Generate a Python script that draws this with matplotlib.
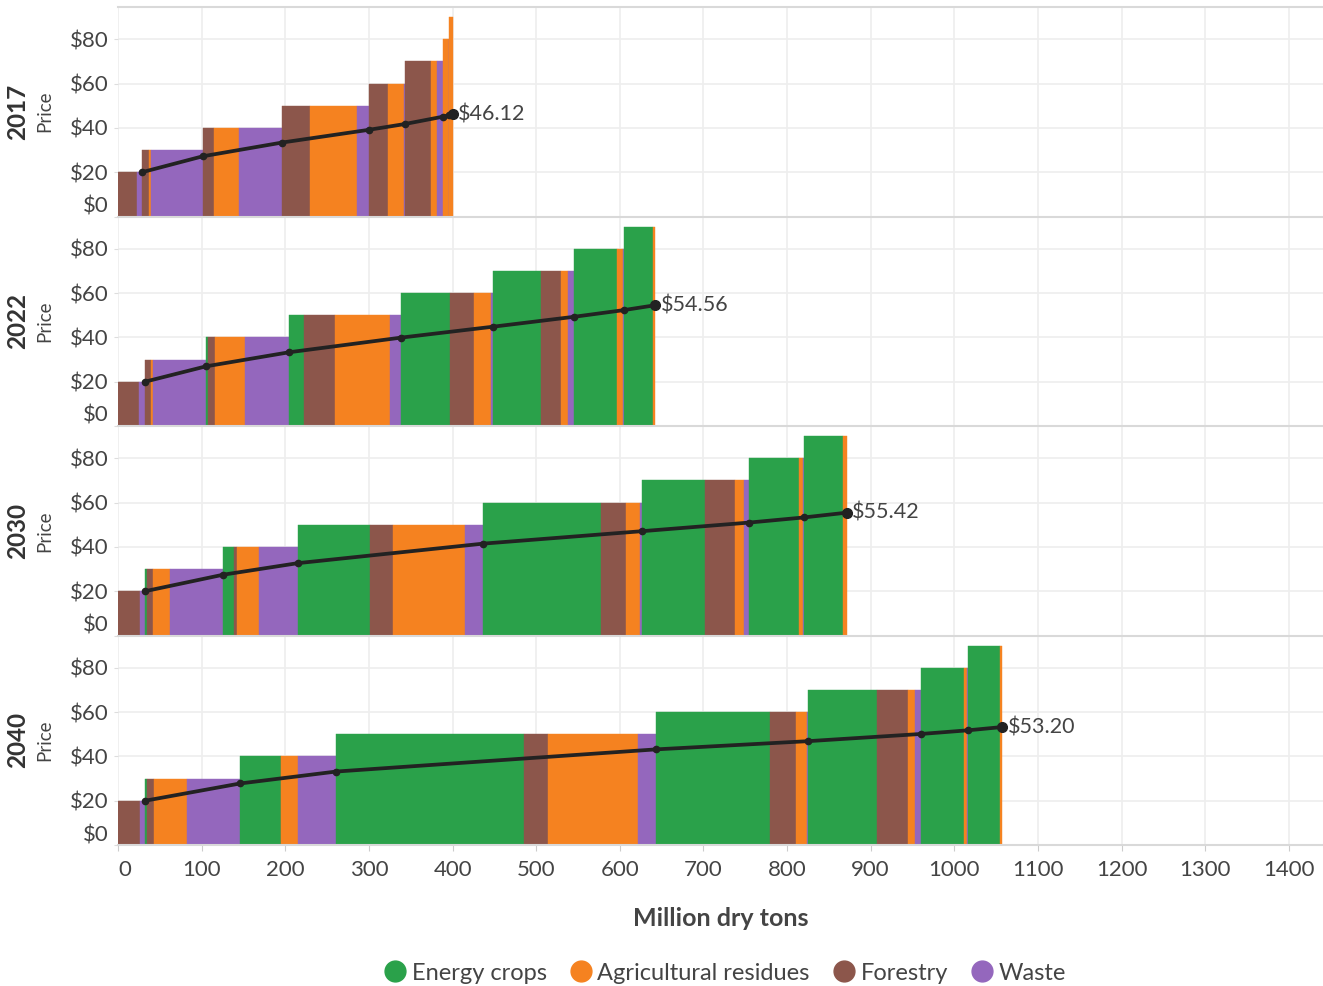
import matplotlib
matplotlib.use('Agg')
import matplotlib.pyplot as plt
from matplotlib.lines import Line2D

plt.rcParams['font.family'] = ['Lato', 'DejaVu Sans']

years = ['2017', '2022', '2030', '2040']
prices = [20, 30, 40, 50, 60, 70, 80, 90]
# order in which the categories are stacked inside each price step
categories = ['Energy crops', 'Forestry', 'Agricultural residues', 'Waste']
legend_order = ['Energy crops', 'Agricultural residues', 'Forestry', 'Waste']
colors = {
    'Energy crops': '#2aa14a',
    'Agricultural residues': '#f58220',
    'Forestry': '#8c564b',
    'Waste': '#9467bd',
}

# million dry tons added at each price step
energy_2017 = [0, 0, 0, 0, 0, 0, 0, 0]
forestry_2017 = [22.5, 8.3, 13.6, 33.5, 22.7, 31.5, 0, 0]
agres_2017 = [0, 2.1, 29.9, 56.2, 19.2, 7.1, 7.0, 4.0]
waste_2017 = [6.0, 62.1, 51.4, 14.4, 0.8, 6.9, 0.8, 0]

energy_2022 = [0, 0, 2.4, 17.9, 58.6, 57.4, 51.5, 35.5]
forestry_2022 = [24.9, 6.8, 8.4, 37.1, 28.7, 24.0, 0, 0]
agres_2022 = [0, 2.4, 35.9, 65.8, 20.4, 8.3, 7.5, 2.4]
waste_2022 = [7.2, 63.7, 52.6, 13.2, 2.3, 7.2, 0.5, 0]

energy_2030 = [0, 2.0, 13.1, 86.5, 141.3, 75.4, 59.8, 46.6]
forestry_2030 = [26.1, 7.2, 3.6, 27.5, 29.9, 35.9, 0, 0]
agres_2030 = [0, 20.7, 26.3, 86.1, 16.7, 10.7, 4.8, 4.8]
waste_2030 = [6.0, 63.4, 46.3, 21.2, 2.4, 6.0, 1.2, 0]

energy_2040 = [0, 1.7, 48.7, 224.9, 136.4, 82.6, 51.4, 38.3]
forestry_2040 = [26.1, 8.7, 0.5, 28.7, 31.1, 37.0, 0, 0]
agres_2040 = [0, 39.5, 20.2, 107.7, 13.5, 8.4, 3.6, 2.4]
waste_2040 = [6.3, 63.4, 45.4, 21.5, 0.8, 7.2, 1.2, 0]

end_labels = ['$46.12', '$54.56', '$55.42', '$53.20']

supply = {
    '2017': [energy_2017, forestry_2017, agres_2017, waste_2017],
    '2022': [energy_2022, forestry_2022, agres_2022, waste_2022],
    '2030': [energy_2030, forestry_2030, agres_2030, waste_2030],
    '2040': [energy_2040, forestry_2040, agres_2040, waste_2040],
}

W, H = 1323, 986
fig = plt.figure(figsize=(W / 100, H / 100), dpi=100)

left_px = 118.2
panel_h = 209.5
text_col = '#444444'

for i, year in enumerate(years):
    top = 7 + i * panel_h
    ax = fig.add_axes([left_px / W, 1 - (top + panel_h) / H, 1 - left_px / W, panel_h / H])

    x = 0.0
    cost = 0.0
    px, py = [], []
    for t, p in enumerate(prices):
        for c, cat in enumerate(categories):
            w = supply[year][c][t]
            if w > 0:
                ax.bar(x, p, width=w, align='edge', color=colors[cat],
                       edgecolor=colors[cat], linewidth=0.3, zorder=2)
            x += w
            cost += w * p
        px.append(x)
        py.append(cost / x)

    ax.plot(px, py, color='#222222', lw=2.7, marker='o', ms=4.5, zorder=5)
    ax.plot(px[-1], py[-1], 'o', color='#222222', ms=7, zorder=6)
    ax.annotate(end_labels[i], (px[-1], py[-1]), xytext=(4, 0), textcoords='offset points',
                va='center', ha='left', fontsize=15.5, color=text_col)

    ax.set_xlim(0, 1441)
    ax.set_ylim(0, 94.6)
    ax.set_yticks([0, 20, 40, 60, 80])
    ax.set_yticklabels(['$0', '$20', '$40', '$60', '$80'])
    ax.set_xticks(range(0, 1500, 100))
    ax.grid(color='#eeeeee', lw=1.2)
    ax.set_axisbelow(True)
    ax.tick_params(axis='y', length=3, color='#dddddd', pad=4, labelsize=16, labelcolor=text_col)
    ax.get_yticklabels()[0].set_va('bottom')

    for s in ['left', 'right', 'bottom']:
        ax.spines[s].set_visible(False)
    ax.spines['top'].set_color('#d9d9d9')
    ax.spines['top'].set_linewidth(1.5)

    if i == len(years) - 1:
        ax.spines['bottom'].set_visible(True)
        ax.spines['bottom'].set_color('#d9d9d9')
        ax.spines['bottom'].set_linewidth(1.5)
        ax.tick_params(axis='x', length=4, color='#cccccc', pad=7, labelsize=16, labelcolor=text_col)
        ax.get_xticklabels()[0].set_ha('left')
    else:
        ax.tick_params(axis='x', length=0, labelbottom=False)

    yc = 1 - (top + panel_h / 2) / H
    fig.text(18 / W, yc, year, rotation=90, ha='center', va='center',
             fontsize=17.5, fontweight='bold', color='#333333')
    fig.text(45 / W, yc, 'Price', rotation=90, ha='center', va='center',
             fontsize=13.5, color=text_col)

fig.text(721 / W, 1 - 918 / H, 'Million dry tons', ha='center', va='center',
         fontsize=18, fontweight='bold', color=text_col)

handles = [Line2D([], [], marker='o', ls='none', ms=15, color=colors[c]) for c in legend_order]
leg = fig.legend(handles, legend_order, loc='center', bbox_to_anchor=(724 / W, 1 - 973 / H),
                 ncol=4, frameon=False, fontsize=17, handletextpad=0.15, columnspacing=0.9,
                 handlelength=1.1)
for t in leg.get_texts():
    t.set_color(text_col)

fig.savefig('out.png', dpi=100)
